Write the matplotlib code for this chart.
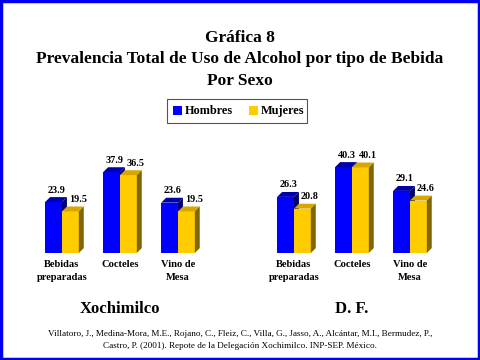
import numpy as np
import matplotlib.pyplot as plt
from matplotlib.patches import Polygon, Rectangle

# Data
categories = ["Bebidas\npreparadas", "Cocteles", "Vino de\nMesa"]
xochimilco_hombres = [23.9, 37.9, 23.6]
xochimilco_mujeres = [19.5, 36.5, 19.5]
df_hombres = [26.3, 40.3, 29.1]
df_mujeres = [20.8, 40.1, 24.6]
series_labels = ["Hombres", "Mujeres"]

plt.rcParams['font.family'] = ['Liberation Serif', 'DejaVu Serif']

BLUE = ("#0000ff", "#0000a8", "#000070")      # front, top, side
YELLOW = ("#ffcc00", "#d9a600", "#806600")


def bar3d(ax, x, h, w, col, dx, dy):
    """Draw a bar with a small 3D top and side face."""
    ax.add_patch(Rectangle((x, 0), w, h, facecolor=col[0], edgecolor='none'))
    ax.add_patch(Polygon([(x, h), (x + dx, h + dy), (x + w + dx, h + dy), (x + w, h)],
                         facecolor=col[1], edgecolor='none'))
    ax.add_patch(Polygon([(x + w, 0), (x + w + dx, dy), (x + w + dx, h + dy), (x + w, h)],
                         facecolor=col[2], edgecolor='none'))


def plot_panel(ax, hombres, mujeres, title):
    pos = np.arange(len(categories))
    w = 0.29
    dx, dy = 0.085, 2.3
    for i in pos:
        bar3d(ax, i - w, hombres[i], w, BLUE, dx, dy)
        bar3d(ax, i, mujeres[i], w, YELLOW, dx, dy)
        ax.text(i - w / 2 + dx * 0.6, hombres[i] + dy + 1.2, f"{hombres[i]:.1f}",
                ha='center', va='bottom', fontsize=7.3, fontweight='bold')
        ax.text(i + w / 2 + dx + 0.04, mujeres[i] + dy + 1.2, f"{mujeres[i]:.1f}",
                ha='center', va='bottom', fontsize=7.3, fontweight='bold')
        ax.text(i, -3.3, categories[i], ha='center', va='top', fontsize=7.6,
                fontweight='bold', linespacing=1.6)
    ax.set_xlim(-0.5, 2.5)
    ax.set_ylim(0, 45)
    ax.axis('off')
    ax.text(0.5, -0.58, title, transform=ax.transAxes, ha='center',
            va='center', fontsize=12, fontweight='bold')


fig = plt.figure(figsize=(4.8, 3.6), dpi=100)

# blue frame
fig.patches.append(Rectangle((0.002, 0.003), 0.995, 0.994, transform=fig.transFigure,
                             fill=False, edgecolor='#0000ee', linewidth=2.5))

fig.text(0.5, 1 - 30 / 360, "Gráfica 8\nPrevalencia Total de Uso de Alcohol por tipo de Bebida\nPor Sexo",
         ha='center', va='top', fontsize=12.5, fontweight='bold', linespacing=1.45)

ax1 = fig.add_axes([33 / 480, 107 / 360, 174 / 480, 96 / 360])
ax2 = fig.add_axes([265 / 480, 107 / 360, 174 / 480, 96 / 360])
plot_panel(ax1, xochimilco_hombres, xochimilco_mujeres, "Xochimilco")
plot_panel(ax2, df_hombres, df_mujeres, "D. F.")

# legend box
fig.patches.append(Rectangle((167 / 480, 1 - 123 / 360), 140 / 480, 24 / 360,
                             transform=fig.transFigure, facecolor='white',
                             edgecolor='#555555', linewidth=0.8))
for k, (lab, col) in enumerate(zip(series_labels, [BLUE[0], YELLOW[0]])):
    x0 = [173, 249][k]
    fig.patches.append(Rectangle((x0 / 480, 1 - 115 / 360), 9 / 480, 9 / 360,
                                 transform=fig.transFigure, facecolor=col,
                                 edgecolor='none'))
    fig.text((x0 + 12) / 480, 1 - 111 / 360, lab, ha='left', va='center',
             fontsize=8.8, fontweight='bold')

fig.text(0.5, 1 - 340 / 360,
         "Villatoro, J., Medina-Mora, M.E., Rojano, C., Fleiz, C., Villa, G., Jasso, A., Alcántar, M.I., Bermudez, P.,\n"
         "Castro, P. (2001). Repote de la Delegación Xochimilco. INP-SEP. México.",
         ha='center', va='center', fontsize=6.6, linespacing=1.6)

fig.savefig("out.png", dpi=100)
